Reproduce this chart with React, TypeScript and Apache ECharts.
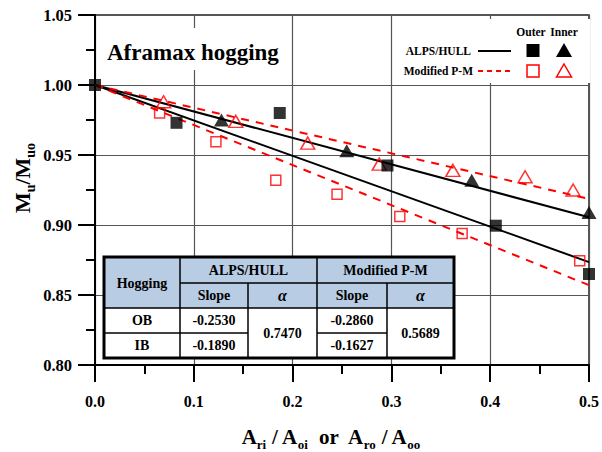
import React, { useEffect, useRef } from "react";
import * as echarts from "echarts";

const FONT = "'Liberation Serif', 'Times New Roman', serif";

// Axis ranges and ticks
const xMin = 0;
const xMax = 0.5;
const xStep = 0.1;
const yMin = 0.8;
const yMax = 1.05;
const yStep = 0.05;

// ALPS/HULL results (filled markers)
const alpsOuterX = [0, 0.0825, 0.187, 0.296, 0.4057, 0.5];
const alpsOuterY = [1.0, 0.973, 0.98, 0.9425, 0.8995, 0.865];
const alpsInnerX = [0.128, 0.2548, 0.3813, 0.5];
const alpsInnerY = [0.975, 0.953, 0.932, 0.909];

// Modified P-M results (open markers)
const pmOuterX = [0.0654, 0.1224, 0.183, 0.245, 0.3085, 0.3716, 0.4906];
const pmOuterY = [0.98, 0.9595, 0.932, 0.922, 0.906, 0.894, 0.8745];
const pmInnerX = [0.0694, 0.1425, 0.2153, 0.2877, 0.3622, 0.4353, 0.4839];
const pmInnerY = [0.988, 0.974, 0.9585, 0.9435, 0.939, 0.9345, 0.925];

// Regression table
const tableRows = ["OB", "IB"];
const alpsSlopes = [-0.253, -0.189];
const pmSlopes = [-0.286, -0.1627];
const alpsAlpha = 0.747;
const pmAlpha = 0.5689;

const zip = (xs: number[], ys: number[]) => xs.map((x, i) => [x, ys[i]]);
const fitLine = (slope: number) => [
  [xMin, 1],
  [xMax, 1 + slope * xMax],
];

const txt = (
  x: number,
  y: number,
  text: string,
  size: number,
  align: string = "center",
  extra: any = {}
) => ({
  type: "text",
  x,
  y,
  z: 20,
  style: {
    text,
    fontSize: size,
    fontFamily: FONT,
    fontWeight: "bold",
    fill: "#000",
    align,
    verticalAlign: "middle",
    textAlign: align,
    textVerticalAlign: "middle",
    ...extra,
  },
});

const hline = (x1: number, x2: number, y: number, w = 1.5) => ({
  type: "line",
  z: 21,
  shape: { x1, y1: y, x2, y2: y },
  style: { stroke: "#000", lineWidth: w },
});
const vline = (x: number, y1: number, y2: number, w = 1.5) => ({
  type: "line",
  z: 21,
  shape: { x1: x, y1, x2: x, y2 },
  style: { stroke: "#000", lineWidth: w },
});

function buildTable() {
  const cx = [104, 180, 248, 317, 387, 454];
  const ry = [257, 283, 308, 333, 358];
  const mid = (a: number, b: number) => (a + b) / 2;
  const els: any[] = [];
  els.push({
    type: "rect",
    z: 19,
    shape: { x: cx[0], y: ry[0], width: cx[5] - cx[0], height: ry[2] - ry[0] },
    style: { fill: "#b8cce4" },
  });
  els.push({
    type: "rect",
    z: 19,
    shape: { x: cx[0], y: ry[2], width: cx[5] - cx[0], height: ry[4] - ry[2] },
    style: { fill: "#fff" },
  });
  // inner rules
  els.push(hline(cx[1], cx[5], ry[1]));
  els.push(hline(cx[0], cx[5], ry[2]));
  els.push(hline(cx[0], cx[2], ry[3]));
  els.push(hline(cx[3], cx[4], ry[3]));
  els.push(vline(cx[1], ry[0], ry[4]));
  els.push(vline(cx[2], ry[1], ry[4]));
  els.push(vline(cx[3], ry[0], ry[4]));
  els.push(vline(cx[4], ry[1], ry[4]));
  // outer border
  els.push({
    type: "rect",
    z: 22,
    shape: { x: cx[0], y: ry[0], width: cx[5] - cx[0], height: ry[4] - ry[0] },
    style: { fill: "none", stroke: "#000", lineWidth: 3 },
  });
  // headers
  els.push(txt(mid(cx[0], cx[1]), ry[1], "Hogging", 14));
  els.push(txt(mid(cx[1], cx[3]), mid(ry[0], ry[1]), "ALPS/HULL", 14));
  els.push(txt(mid(cx[3], cx[5]), mid(ry[0], ry[1]), "Modified P-M", 14));
  els.push(txt(mid(cx[1], cx[2]), mid(ry[1], ry[2]), "Slope", 14));
  els.push(txt(mid(cx[3], cx[4]), mid(ry[1], ry[2]), "Slope", 14));
  els.push(txt(mid(cx[2], cx[3]), mid(ry[1], ry[2]), "α", 16, "center", { fontStyle: "italic" }));
  els.push(txt(mid(cx[4], cx[5]), mid(ry[1], ry[2]), "α", 16, "center", { fontStyle: "italic" }));
  // body
  tableRows.forEach((name, i) => {
    const y = mid(ry[2 + i], ry[3 + i]);
    els.push(txt(mid(cx[0], cx[1]), y, name, 14));
    els.push(txt(mid(cx[1], cx[2]), y, alpsSlopes[i].toFixed(4), 14));
    els.push(txt(mid(cx[3], cx[4]), y, pmSlopes[i].toFixed(4), 14));
  });
  els.push(txt(mid(cx[2], cx[3]), ry[3], alpsAlpha.toFixed(4), 14));
  els.push(txt(mid(cx[4], cx[5]), ry[3], pmAlpha.toFixed(4), 14));
  return els;
}

function buildLegend() {
  const els: any[] = [];
  els.push({
    type: "rect",
    z: 15,
    shape: { x: 395, y: 19, width: 195, height: 64 },
    style: { fill: "#fff" },
  });
  els.push(txt(531, 32, "Outer", 11.5));
  els.push(txt(564, 32, "Inner", 11.5));
  els.push(txt(471, 51, "ALPS/HULL", 11.5, "right"));
  els.push(txt(473, 71, "Modified P-M", 11.5, "right"));
  els.push({
    type: "line",
    z: 20,
    shape: { x1: 478, y1: 51, x2: 511, y2: 51 },
    style: { stroke: "#000", lineWidth: 2 },
  });
  els.push({
    type: "line",
    z: 20,
    shape: { x1: 478, y1: 71, x2: 511, y2: 71 },
    style: { stroke: "#ff0000", lineWidth: 2, lineDash: [5, 4] },
  });
  els.push({
    type: "rect",
    z: 20,
    shape: { x: 526.5, y: 44, width: 13, height: 13 },
    style: { fill: "#000" },
  });
  els.push({
    type: "polygon",
    z: 20,
    shape: { points: [[564, 43], [572, 57], [556, 57]] },
    style: { fill: "#000" },
  });
  els.push({
    type: "rect",
    z: 20,
    shape: { x: 527, y: 65, width: 12, height: 12 },
    style: { fill: "none", stroke: "#ff0000", lineWidth: 1.5 },
  });
  els.push({
    type: "polygon",
    z: 20,
    shape: { points: [[564, 64], [571.5, 77], [556.5, 77]] },
    style: { fill: "none", stroke: "#ff0000", lineWidth: 1.5 },
  });
  return els;
}

export default function App() {
  const ref = useRef<HTMLDivElement>(null);

  useEffect(() => {
    if (!ref.current) return;
    const chart = echarts.init(ref.current, undefined, { renderer: "svg" });

    const axisCommon = {
      type: "value" as const,
      axisLine: { show: true, onZero: false, lineStyle: { color: "#000", width: 2 } },
      axisTick: { show: true, inside: false, length: 17, lineStyle: { color: "#000", width: 2 } },
      minorTick: { show: true, splitNumber: 2, length: 9, lineStyle: { color: "#000", width: 2 } },
      splitLine: { show: true, lineStyle: { color: "#555", width: 1.2 } },
    };

    const rich = {
      m: { fontSize: 22, fontFamily: FONT, fontWeight: "bold", fill: "#000", lineHeight: 30, verticalAlign: "middle" },
      s: { fontSize: 14, fontFamily: FONT, fontWeight: "bold", fill: "#000", lineHeight: 14, verticalAlign: "bottom" },
    };
    const richX = {
      m: { fontSize: 21, fontFamily: FONT, fontWeight: "bold", fill: "#000", lineHeight: 28, verticalAlign: "middle" },
      s: { fontSize: 13, fontFamily: FONT, fontWeight: "bold", fill: "#000", lineHeight: 13, verticalAlign: "bottom" },
    };

    chart.setOption({
      animation: false,
      backgroundColor: "#fff",
      grid: {
        left: 95,
        right: 10,
        top: 15,
        bottom: 87,
        show: true,
        borderColor: "#222",
        borderWidth: 1.5,
        backgroundColor: "#fff",
      },
      xAxis: {
        ...axisCommon,
        min: xMin,
        max: xMax,
        interval: xStep,
        axisLabel: {
          margin: 28,
          formatter: (v: number) => v.toFixed(1),
          fontFamily: FONT,
          fontWeight: "bold",
          fontSize: 16,
          color: "#000",
        },
      },
      yAxis: {
        ...axisCommon,
        min: yMin,
        max: yMax,
        interval: yStep,
        axisLabel: {
          margin: 23,
          formatter: (v: number) => v.toFixed(2),
          fontFamily: FONT,
          fontWeight: "bold",
          fontSize: 16.5,
          color: "#000",
        },
      },
      series: [
        {
          name: "ALPS/HULL OB fit",
          type: "line",
          data: fitLine(alpsSlopes[0]),
          symbol: "none",
          lineStyle: { color: "#000", width: 2 },
          z: 3,
        },
        {
          name: "ALPS/HULL IB fit",
          type: "line",
          data: fitLine(alpsSlopes[1]),
          symbol: "none",
          lineStyle: { color: "#000", width: 2 },
          z: 3,
        },
        {
          name: "Modified P-M OB fit",
          type: "line",
          data: fitLine(pmSlopes[0]),
          symbol: "none",
          lineStyle: { color: "#ff0000", width: 2, type: [8, 7] },
          z: 3,
        },
        {
          name: "Modified P-M IB fit",
          type: "line",
          data: fitLine(pmSlopes[1]),
          symbol: "none",
          lineStyle: { color: "#ff0000", width: 2, type: [8, 7] },
          z: 3,
        },
        {
          name: "Modified P-M Outer",
          type: "scatter",
          data: zip(pmOuterX, pmOuterY),
          symbol: "rect",
          symbolSize: 10,
          itemStyle: { color: "rgba(0,0,0,0)", borderColor: "#ff0000", borderWidth: 1.5 },
          z: 4,
        },
        {
          name: "Modified P-M Inner",
          type: "scatter",
          data: zip(pmInnerX, pmInnerY),
          symbol: "triangle",
          symbolSize: [14, 12],
          itemStyle: { color: "rgba(0,0,0,0)", borderColor: "#ff0000", borderWidth: 1.5 },
          z: 4,
        },
        {
          name: "ALPS/HULL Inner",
          type: "scatter",
          data: zip(alpsInnerX, alpsInnerY),
          symbol: "triangle",
          symbolSize: [15, 13],
          itemStyle: { color: "#000" },
          z: 5,
        },
        {
          name: "ALPS/HULL Outer",
          type: "scatter",
          data: zip(alpsOuterX, alpsOuterY),
          symbol: "rect",
          symbolSize: 12,
          itemStyle: { color: "#000" },
          z: 5,
        },
      ],
      graphic: [
        // title box
        {
          type: "rect",
          z: 15,
          shape: { x: 100, y: 28, width: 190, height: 42 },
          style: { fill: "#fff" },
        },
        txt(107, 52, "Aframax hogging", 23, "left"),
        ...buildLegend(),
        ...buildTable(),
        // axis titles
        {
          type: "text",
          x: 22,
          y: 178,
          rotation: Math.PI / 2,
          z: 20,
          style: {
            text: "{m|M}{s|u}{m|/M}{s|uo}",
            rich,
            align: "center",
            verticalAlign: "middle",
            textAlign: "center",
            textVerticalAlign: "middle",
          },
        },
        {
          type: "text",
          x: 331,
          y: 437,
          z: 20,
          style: {
            text: "{m|A}{s|ri}{m| / A}{s|oi}{m|  or  A}{s|ro}{m| / A}{s|oo}",
            rich: richX,
            align: "center",
            verticalAlign: "middle",
            textAlign: "center",
            textVerticalAlign: "middle",
          },
        },
      ],
    });

    return () => chart.dispose();
  }, []);

  return (
    <div
      ref={ref}
      style={{ position: "fixed", left: 0, top: 0, width: 602, height: 452, background: "#fff" }}
    />
  );
}
